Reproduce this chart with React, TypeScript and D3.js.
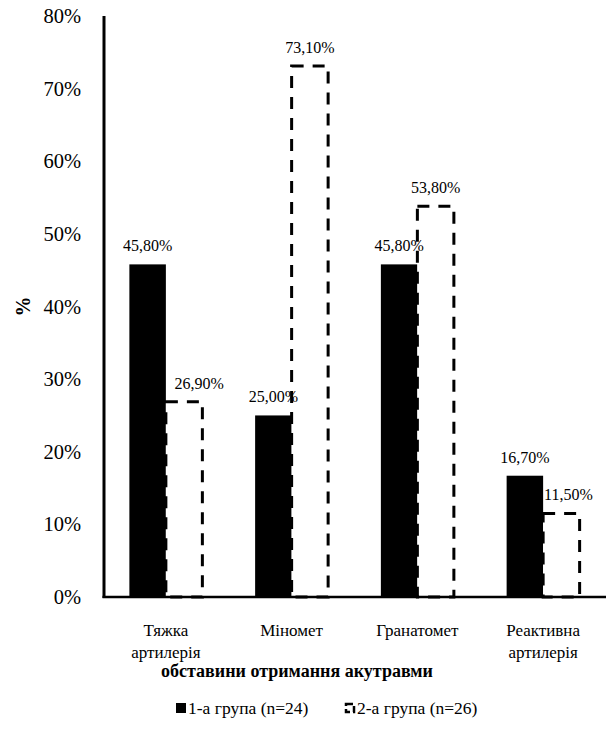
import React from "react";
import * as d3 from "d3";

const categories: string[][] = [
  ["Тяжка", "артилерія"],
  ["Міномет"],
  ["Гранатомет"],
  ["Реактивна", "артилерія"],
];
const group1: number[] = [45.8, 25.0, 45.8, 16.7];
const group2: number[] = [26.9, 73.1, 53.8, 11.5];
const labels1: string[] = ["45,80%", "25,00%", "45,80%", "16,70%"];
const labels2: string[] = ["26,90%", "73,10%", "53,80%", "11,50%"];
const labelShift2: number[] = [15, 0, 0, 7];
const yTicks: number[] = [0, 10, 20, 30, 40, 50, 60, 70, 80];
const seriesNames: string[] = ["1-а група (n=24)", "2-а група (n=26)"];
const xTitle = "обставини отримання акутравми";
const yTitle = "%";

const W = 606;
const H = 729;
const FONT = '"Liberation Serif"';
const fs = { fontFamily: FONT };

export default function App() {
  const keys = categories.map((c) => c.join(" "));
  const x0 = d3.scaleBand<string>().domain(keys).range([103, 606]).padding(0);
  const bw = x0.bandwidth();
  const groupW = 73;
  const x1 = d3
    .scaleBand<string>()
    .domain(["g1", "g2"])
    .range([(bw - groupW) / 2, (bw + groupW) / 2])
    .padding(0);
  const y = d3.scaleLinear().domain([0, 80]).range([597, 16]);
  const b = x1.bandwidth();

  return (
    <svg
      width={W}
      height={H}
      style={{ position: "absolute", left: 0, top: 0, background: "#fff" }}
    >
      <rect x={0} y={0} width={W} height={H} fill="#fff" />
      {yTicks.map((t) => (
        <text key={t} x={81} y={y(t) + 7} textAnchor="end" fontSize={20.5} fill="#000" style={fs}>
          {t}%
        </text>
      ))}
      {keys.map((k, i) => (
        <rect
          key={"a" + k}
          x={(x0(k) as number) + (x1("g1") as number)}
          y={y(group1[i])}
          width={b}
          height={y(0) - y(group1[i])}
          fill="#000"
        />
      ))}
      {keys.map((k, i) => (
        <rect
          key={"b" + k}
          x={(x0(k) as number) + (x1("g2") as number)}
          y={y(group2[i])}
          width={b}
          height={y(0) - y(group2[i])}
          fill="#fff"
          stroke="#000"
          strokeWidth={3}
          strokeDasharray="12,9"
        />
      ))}
      {keys.map((k, i) => (
        <text
          key={"la" + k}
          x={(x0(k) as number) + (x1("g1") as number) + b / 2}
          y={y(group1[i]) - 13}
          textAnchor="middle"
          fontSize={16}
          fill="#000"
          style={fs}
        >
          {labels1[i]}
        </text>
      ))}
      {keys.map((k, i) => (
        <text
          key={"lb" + k}
          x={(x0(k) as number) + (x1("g2") as number) + b / 2 + labelShift2[i]}
          y={y(group2[i]) - 13}
          textAnchor="middle"
          fontSize={16}
          fill="#000"
          style={fs}
        >
          {labels2[i]}
        </text>
      ))}
      <line x1={104} x2={104} y1={y(80)} y2={y(0) + 1} stroke="#000" strokeWidth={3} />
      <line x1={102.5} x2={606} y1={y(0)} y2={y(0)} stroke="#000" strokeWidth={2.5} />
      {categories.map((lines, i) => (
        <text
          key={"c" + i}
          x={(x0(keys[i]) as number) + bw / 2}
          y={636}
          textAnchor="middle"
          fontSize={17}
          fill="#000"
          style={fs}
        >
          {lines.map((l, j) => (
            <tspan key={j} x={(x0(keys[i]) as number) + bw / 2} dy={j === 0 ? 0 : 22}>
              {l}
            </tspan>
          ))}
        </text>
      ))}
      <text x={297} y={677} textAnchor="middle" fontSize={18} fontWeight="bold" fill="#000" style={fs}>
        {xTitle}
      </text>
      <text
        transform={`translate(30, ${(y(0) + y(80)) / 2}) rotate(-90)`}
        textAnchor="middle"
        fontSize={20}
        fontWeight="bold"
        fill="#000"
        style={fs}
      >
        {yTitle}
      </text>
      <rect x={176} y={703} width={10} height={10} fill="#000" />
      <text x={188} y={714} fontSize={17.5} fill="#000" style={fs}>
        {seriesNames[0]}
      </text>
      <rect
        x={346}
        y={704}
        width={8}
        height={8}
        fill="#fff"
        stroke="#000"
        strokeWidth={2.5}
        strokeDasharray="7,3"
      />
      <text x={357} y={714} fontSize={17.5} fill="#000" style={fs}>
        {seriesNames[1]}
      </text>
    </svg>
  );
}
